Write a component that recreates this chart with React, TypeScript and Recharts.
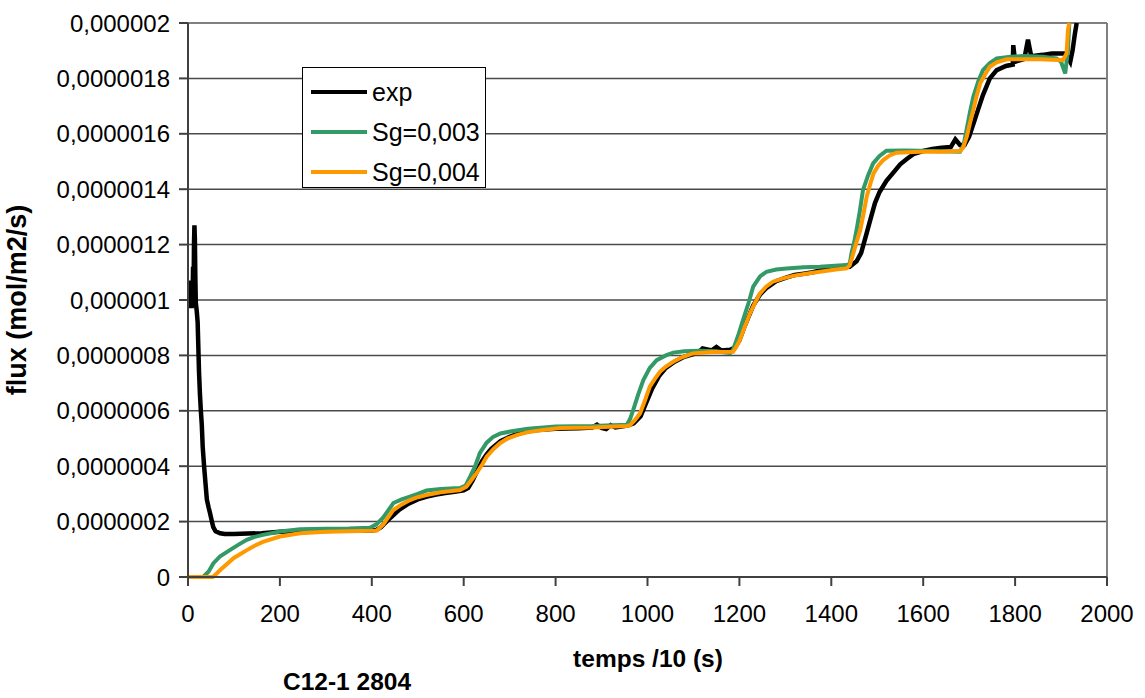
import React from "react"
import { LineChart, Line, XAxis, YAxis, CartesianGrid, ReferenceLine } from "recharts"

// values in 1e-6 mol/m2/s, time in temps/10 (s)
const expX = [4, 5, 6, 7, 8, 9, 10, 11, 12, 13, 14, 15, 16, 17, 19, 21, 22, 24, 26, 28, 30, 32, 35, 38, 41, 45, 48, 52, 55, 60, 70, 80, 100, 130, 160, 200, 240, 280, 320, 360, 400, 410, 420, 440, 460, 480, 500, 520, 540, 560, 580, 600, 610, 620, 630, 640, 650, 660, 680, 700, 720, 740, 760, 800, 850, 880, 890, 900, 910, 920, 930, 950, 960, 970, 985, 1000, 1010, 1025, 1040, 1060, 1080, 1100, 1110, 1120, 1140, 1150, 1160, 1180, 1190, 1200, 1210, 1220, 1230, 1245, 1260, 1280, 1300, 1320, 1340, 1360, 1380, 1400, 1420, 1440, 1455, 1465, 1475, 1485, 1495, 1505, 1520, 1535, 1550, 1565, 1580, 1600, 1620, 1640, 1660, 1670, 1680, 1690, 1700, 1710, 1720, 1730, 1745, 1760, 1780, 1795, 1796, 1800, 1820, 1828, 1835, 1860, 1880, 1900, 1910, 1920, 1925, 1930, 1934]
const expY = [0.97, 1.06, 0.98, 1.07, 0.97, 1.04, 1.0, 1.12, 0.98, 1.2, 1.27, 1.22, 1.08, 0.99, 0.96, 0.92, 0.86, 0.74, 0.66, 0.6, 0.55, 0.47, 0.4, 0.34, 0.28, 0.25, 0.23, 0.2, 0.18, 0.165, 0.158, 0.155, 0.155, 0.157, 0.158, 0.163, 0.165, 0.166, 0.167, 0.167, 0.168, 0.17, 0.18, 0.213, 0.243, 0.265, 0.28, 0.29, 0.298, 0.303, 0.308, 0.313, 0.322, 0.35, 0.385, 0.418, 0.443, 0.463, 0.49, 0.506, 0.518, 0.526, 0.531, 0.535, 0.537, 0.54, 0.55, 0.538, 0.534, 0.548, 0.54, 0.545, 0.548, 0.555, 0.58, 0.64, 0.68, 0.725, 0.755, 0.778, 0.795, 0.805, 0.81, 0.825, 0.818, 0.83, 0.818, 0.82, 0.828, 0.855, 0.9, 0.94, 0.98, 1.02, 1.045, 1.068, 1.08, 1.09, 1.095, 1.1, 1.108, 1.112, 1.118, 1.12, 1.14, 1.17, 1.23, 1.29, 1.35, 1.39, 1.43, 1.46, 1.49, 1.51, 1.528, 1.538, 1.545, 1.55, 1.552, 1.58, 1.56, 1.56, 1.59, 1.64, 1.69, 1.74, 1.8, 1.83, 1.845, 1.85, 1.92, 1.86, 1.87, 1.94, 1.88, 1.885, 1.89, 1.89, 1.89, 1.86, 1.9, 1.96, 2.0]

const sg3X = [0, 33, 45, 55, 70, 91, 110, 128, 145, 163, 200, 244, 300, 350, 396, 410, 425, 447, 465, 483, 500, 519, 550, 592, 604, 614, 625, 635, 650, 664, 680, 701, 740, 800, 880, 955, 962, 969, 980, 991, 1005, 1020, 1040, 1056, 1080, 1114, 1150, 1180, 1186, 1197, 1208, 1220, 1230, 1245, 1259, 1280, 1303, 1340, 1375, 1433, 1440, 1444, 1450, 1455, 1462, 1469, 1480, 1491, 1505, 1520, 1560, 1593, 1640, 1680, 1688, 1695, 1702, 1709, 1720, 1730, 1745, 1760, 1790, 1817, 1860, 1890, 1900, 1909, 1915, 1918]
const sg3Y = [0, 0, 0.02, 0.049, 0.075, 0.097, 0.117, 0.134, 0.145, 0.152, 0.164, 0.172, 0.174, 0.175, 0.178, 0.19, 0.215, 0.267, 0.28, 0.29, 0.3, 0.312, 0.318, 0.321, 0.33, 0.362, 0.4, 0.447, 0.485, 0.506, 0.518, 0.525, 0.535, 0.543, 0.545, 0.55, 0.57, 0.603, 0.66, 0.711, 0.755, 0.783, 0.8, 0.81, 0.815, 0.817, 0.815, 0.808, 0.82, 0.87, 0.928, 0.99, 1.048, 1.085, 1.102, 1.11, 1.114, 1.118, 1.12, 1.126, 1.13, 1.169, 1.21, 1.253, 1.32, 1.397, 1.45, 1.493, 1.52, 1.539, 1.54, 1.539, 1.537, 1.535, 1.56, 1.62, 1.68, 1.734, 1.79, 1.83, 1.855, 1.872, 1.878, 1.881, 1.878, 1.872, 1.86, 1.818, 1.9, 2.0]

const sg4X = [0, 54, 62, 70, 85, 99, 115, 128, 145, 163, 200, 244, 300, 350, 400, 411, 425, 447, 465, 483, 500, 519, 550, 592, 606, 617, 628, 640, 650, 665, 679, 695, 715, 740, 773, 810, 880, 955, 962, 972, 984, 995, 1005, 1016, 1027, 1040, 1056, 1075, 1099, 1140, 1186, 1193, 1201, 1212, 1223, 1234, 1245, 1258, 1273, 1295, 1317, 1345, 1375, 1410, 1433, 1440, 1448, 1455, 1463, 1470, 1477, 1485, 1492, 1502, 1513, 1527, 1542, 1593, 1640, 1680, 1687, 1695, 1702, 1709, 1716, 1724, 1735, 1745, 1760, 1782, 1820, 1854, 1904, 1912, 1915, 1918]
const sg4Y = [0, 0, 0.012, 0.025, 0.047, 0.068, 0.084, 0.097, 0.113, 0.127, 0.146, 0.158, 0.163, 0.165, 0.167, 0.168, 0.19, 0.242, 0.262, 0.278, 0.288, 0.296, 0.306, 0.314, 0.326, 0.35, 0.375, 0.405, 0.434, 0.462, 0.483, 0.5, 0.512, 0.523, 0.531, 0.538, 0.54, 0.545, 0.548, 0.565, 0.591, 0.64, 0.687, 0.715, 0.741, 0.76, 0.777, 0.793, 0.807, 0.812, 0.813, 0.83, 0.856, 0.905, 0.952, 0.99, 1.024, 1.048, 1.066, 1.078, 1.087, 1.095, 1.102, 1.11, 1.114, 1.125, 1.169, 1.21, 1.253, 1.31, 1.373, 1.42, 1.457, 1.485, 1.505, 1.522, 1.532, 1.535, 1.535, 1.538, 1.55, 1.59, 1.64, 1.686, 1.735, 1.782, 1.815, 1.842, 1.858, 1.869, 1.869, 1.869, 1.866, 1.89, 1.975, 2.0]

const xTicks = [0, 200, 400, 600, 800, 1000, 1200, 1400, 1600, 1800, 2000]
const yTicks = [0, 2e-7, 4e-7, 6e-7, 8e-7, 1e-6, 1.2e-6, 1.4e-6, 1.6e-6, 1.8e-6, 2e-6]

const toPoints = (xs: number[], ys: number[]) => xs.map((x, i) => ({ x, y: ys[i] * 1e-6 }))

const series = [
  { name: "exp", color: "#000000", data: toPoints(expX, expY), width: 4.5 },
  { name: "Sg=0,003", color: "#339966", data: toPoints(sg3X, sg3Y), width: 4 },
  { name: "Sg=0,004", color: "#FF9900", data: toPoints(sg4X, sg4Y), width: 4 },
]

const font = "'Liberation Sans', Arial, sans-serif"

const formatFlux = (v: number) =>
  v === 0 ? "0" : v.toFixed(7).replace(/0+$/, "").replace(".", ",")

function LegendBox() {
  return (
    <div
      style={{
        position: "absolute",
        left: 302,
        top: 67,
        width: 184,
        height: 121,
        border: "1px solid #000",
        background: "#fff",
        fontFamily: font,
        fontSize: 25,
        color: "#000",
        paddingTop: 4,
        boxSizing: "border-box",
      }}
    >
      {series.map((s) => (
        <div key={s.name} style={{ display: "flex", alignItems: "center", height: 40 }}>
          <div style={{ width: 56, height: 4, background: s.color, marginLeft: 8, marginRight: 5 }} />
          <span style={{ lineHeight: "40px" }}>{s.name}</span>
        </div>
      ))}
    </div>
  )
}

function YTitle() {
  return (
    <text
      x={17}
      y={300}
      transform="rotate(-90 17 300)"
      textAnchor="middle"
      dominantBaseline="central"
      fontFamily={font}
      fontWeight="bold"
      fontSize={27}
      fill="#000"
    >
      flux (mol/m2/s)
    </text>
  )
}

function XTitle() {
  return (
    <g fontFamily={font} fontWeight="bold" fontSize={24.5} fill="#000">
      <text x={648} y={658} textAnchor="middle" dominantBaseline="central">
        temps /10 (s)
      </text>
      <text x={283} y={681} textAnchor="start" dominantBaseline="central">
        C12-1 2804
      </text>
    </g>
  )
}

export default function App() {
  return (
    <div style={{ position: "absolute", left: 0, top: 0, width: 1145, height: 698, background: "#fff" }}>
      <LineChart width={1145} height={698} margin={{ top: 23, right: 38, bottom: 81, left: 8 }}>
        <CartesianGrid vertical={false} stroke="#4a4a4a" strokeWidth={1.5} />
        <XAxis
          type="number"
          dataKey="x"
          domain={[0, 2000]}
          ticks={xTicks}
          interval={0}
          height={40}
          tickSize={9}
          tickMargin={19}
          stroke="#404040"
          strokeWidth={2}
          tick={{ fill: "#000", fontSize: 24, fontFamily: font }}
          label={<XTitle />}
        />
        <YAxis
          type="number"
          dataKey="y"
          domain={[0, 2e-6]}
          ticks={yTicks}
          interval={0}
          width={180}
          tickSize={9}
          tickMargin={9}
          tickFormatter={formatFlux}
          stroke="#404040"
          strokeWidth={2}
          tick={{ fill: "#000", fontSize: 24, fontFamily: font }}
          label={<YTitle />}
        />
        <ReferenceLine x={2000} stroke="#808080" strokeWidth={2} />
        <ReferenceLine y={2e-6} stroke="#808080" strokeWidth={2} />
        {series.map((s) => (
          <Line
            key={s.name}
            data={s.data}
            dataKey="y"
            name={s.name}
            type="linear"
            stroke={s.color}
            strokeWidth={s.width}
            dot={false}
            isAnimationActive={false}
          />
        ))}
      </LineChart>
      <LegendBox />
    </div>
  )
}
